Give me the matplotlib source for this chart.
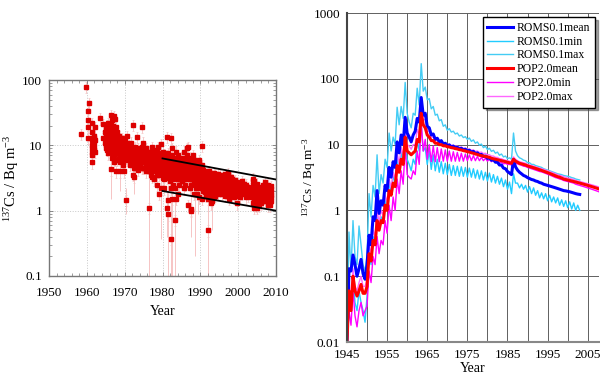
import numpy as np
import matplotlib
matplotlib.use("Agg")
import matplotlib.pyplot as plt
from matplotlib.ticker import FixedLocator, FixedFormatter, MultipleLocator, LogLocator, NullFormatter

plt.rcParams["font.family"] = ["Liberation Serif", "DejaVu Serif"]
plt.rcParams["mathtext.fontset"] = "custom"
plt.rcParams["mathtext.rm"] = "Liberation Serif"
plt.rcParams["mathtext.it"] = "Liberation Serif:italic"

# ---- left panel: observed surface 137Cs (sampling time, concentrations) ----
obs_time = [1958.5, 1959.7, 1960.2, 1960.6, 1961.3, 1961.8, 1962.2, 1963.5, 1964.3, 1964.8,
            1965.1, 1965.4, 1965.7, 1966.0, 1966.3, 1966.6, 1966.9,
            1967.2, 1967.5, 1967.8, 1968.1, 1968.4, 1968.7, 1968.9,
            1969.2, 1969.5, 1969.8, 1970.1, 1970.4, 1970.7,
            1971.2, 1971.5, 1971.8, 1972.1, 1972.4, 1972.8, 1973.2, 1973.6,
            1974.0, 1974.5, 1974.9, 1975.2, 1975.6, 1976.1, 1976.5, 1976.9,
            1977.3, 1977.7, 1978.1, 1978.5, 1978.9, 1979.2, 1979.6,
            1980.0, 1980.4, 1980.8, 1981.1, 1981.5, 1981.9, 1982.2, 1982.6, 1982.9,
            1983.2, 1983.6, 1984.0, 1984.4, 1984.8, 1985.2, 1985.6,
            1986.0, 1986.4, 1986.8, 1987.2, 1987.6, 1988.0, 1988.4, 1988.8,
            1989.2, 1989.6, 1990.0, 1990.4, 1990.8, 1991.2, 1991.6,
            1992.0, 1992.1, 1992.4, 1992.8, 1993.2, 1993.6, 1994.0, 1994.4, 1994.8,
            1995.2, 1995.6, 1996.0, 1996.4, 1996.8, 1997.2, 1997.6,
            1998.0, 1998.4, 1998.8, 1999.2, 1999.6, 2000.0, 2000.5,
            2001.0, 2001.6, 2002.2, 2002.7, 2003.4, 2004.0, 2004.3, 2004.6,
            2005.0, 2005.4, 2006.0, 2006.5, 2007.0, 2007.5, 2008.0, 2008.4, 2008.7]
obs_conc = [[15], [78], [33, 24, 19, 13], [44], [22, 16, 13, 9, 8, 7, 5.5, 12, 10], [14, 11, 9.5, 8.5, 13],
            [12, 8, 19], [26], [13, 21], [16, 11],
            [18, 14, 12, 10, 9], [20, 15, 11, 8.5, 13], [22, 17, 12, 9.5, 7.5], [16, 13, 10, 8, 11.5],
            [4.3, 29, 21, 14, 9, 12], [18, 15, 11, 8.5, 6.5, 24], [13, 10, 7, 16, 20],
            [28, 17, 12, 9, 7, 5.5, 14], [25, 15, 11, 8, 6, 10], [19, 13, 9.5, 7.5, 4, 11],
            [16, 12, 9, 6, 10.5], [14, 11, 8, 6.5, 9.5], [13, 10, 7.5, 5.5, 4], [12, 9, 7, 8],
            [13, 10, 8, 6, 11], [12, 9, 7, 5, 8.5], [11, 9.5, 7.5, 6.5, 4], [12, 9, 7, 8],
            [1.45, 10, 8.5, 6.5], [14, 11, 8, 6, 9.5],
            [10, 8, 6.5, 7.5, 9], [9, 7, 6, 8.5, 5], [11, 8, 7, 6, 9.5],
            [20.5, 9, 7, 5, 3.5, 8, 6], [8, 6.5, 5.5, 3.3, 7.5, 4.5],
            [9.5, 7, 6, 4.5, 8, 5.2], [13.5, 8, 6.5, 5.5, 7.2, 4.8], [7.5, 6, 9, 5, 6.8, 4.2],
            [8, 7, 6, 5, 7.5, 5.5], [19, 9.5, 7.5, 6, 5.5, 8.5, 4.5], [11, 8, 6.5, 4.5, 7, 5.5],
            [8.5, 6.5, 5.5, 4.5, 7.5, 6], [7, 6, 5, 9, 8, 5.5, 4],
            [6.5, 5.5, 4.5, 8, 7, 6], [1.1, 7, 6, 5, 4, 8, 5.5], [7.5, 6.5, 5.5, 3.5, 4.5, 6],
            [9.5, 7, 6, 4.5, 3.3, 8, 5.2], [8, 6.5, 5.5, 4, 3, 7.2, 4.8], [8.5, 6.5, 5.5, 4.5, 7.5, 6],
            [7, 6, 5, 3.5, 2.5, 8, 4.2], [9.5, 7.5, 6, 4, 5, 6.8],
            [6.5, 5.5, 4.5, 3.5, 1.8, 7.5, 5], [10.5, 7, 5.5, 4.5, 2.2, 6.2, 3.8],
            [8, 6, 5, 4, 7, 4.5, 3.2], [6.5, 5.5, 4.5, 3, 2.2, 7.2, 3.7], [7, 5.5, 4, 3.5, 6.2, 4.8],
            [13.5, 6, 5, 4, 1.1, 7, 4.5, 3.2], [7.5, 5.5, 4.5, 3.5, 0.88, 1.45, 6.5, 4],
            [6.5, 5, 4, 2.8, 5.7, 3.4], [13, 6, 4.5, 3.5, 2.2, 0.37, 5.2, 3.9],
            [9, 7, 5.5, 4.5, 3, 1.5, 6.2, 3.8], [6, 5, 4, 2.5, 4.5, 3.3],
            [0.72, 6, 4.5, 3.5, 2.2, 5.2, 3.9], [8, 5.5, 4, 3, 1.5, 6.5, 4.7],
            [7, 5, 4, 3, 1.8, 6, 4.5, 3.5], [6, 4.5, 3.5, 2.5, 5.2, 4, 3],
            [6.5, 5, 4, 3, 5.7, 4.5, 3.4], [5.5, 4.5, 3.5, 2.8, 5, 4, 3.2],
            [8, 6.5, 5, 4, 3, 2.2, 5.7, 4.5, 3.5],
            [6, 4.5, 3.5, 2.5, 5.3, 4, 3], [9, 7, 5.5, 4.5, 3.5, 6.2, 5, 4],
            [9.5, 6, 4.5, 3.5, 1.2, 5.2, 4, 3], [6.5, 5, 4, 3, 2.2, 5.5, 4.5, 3.5],
            [5.5, 4.5, 3.5, 2.5, 1.0, 1.05, 5, 4, 3], [7, 5, 4, 3, 6, 4.5, 3.5],
            [6, 4.5, 3.5, 2.8, 1.8, 5.2, 4, 3.2], [5.5, 4, 3, 2.2, 4.8, 3.5, 2.6],
            [5, 4, 3.2, 2.5, 1.8, 4.5, 3.6, 2.8], [6, 4.5, 3.5, 2.8, 1.6, 5.2, 4, 3.2],
            [4.5, 3.5, 2.8, 2.2, 4, 3.2, 2.5],
            [9.8, 5, 3.8, 3, 2.2, 1.5, 4.4, 3.4, 2.6], [4.2, 3.3, 2.6, 2, 3.7, 2.9, 2.3],
            [4, 3.2, 2.5, 1.9, 3.6, 2.8, 2.2], [3.6, 2.8, 2.2, 1.7, 3.2, 2.5, 2],
            [3.8, 3, 2.4, 1.9, 1.5, 3.4, 2.7, 2.1], [0.5], [4, 3.2, 2.6, 2, 1.6, 3.6, 2.9, 2.3],
            [3.4, 2.7, 2.2, 1.7, 1.3, 3, 2.4, 1.9],
            [3.5, 2.8, 2.3, 1.8, 1.4, 3.1, 2.5, 2], [3.8, 3, 2.4, 2, 1.6, 3.4, 2.7, 2.2],
            [3.6, 3, 2.5, 2.1, 1.7, 3.3, 2.7, 2.3],
            [3.3, 2.8, 2.3, 1.9, 3, 2.5, 2.1], [3.7, 3.1, 2.6, 2.2, 1.8, 3.4, 2.8, 2.4],
            [3.5, 2.9, 2.4, 2, 3.2, 2.6, 2.2], [3.2, 2.7, 2.2, 1.8, 3, 2.5, 2],
            [3.4, 2.8, 2.4, 2, 3.1, 2.6, 2.2], [3.6, 3, 2.5, 2.1, 1.7, 3.3, 2.7, 2.3],
            [3.2, 2.7, 2.3, 1.9, 2.9, 2.5, 2.1], [3.8, 3, 2.5, 2.1, 3.4, 2.7, 2.3],
            [3.1, 2.6, 2.2, 1.8, 1.5, 2.9, 2.4, 2],
            [3.3, 2.8, 2.4, 2, 3, 2.6, 2.2], [3, 2.5, 2.1, 1.7, 2.8, 2.3, 1.9],
            [2.8, 2.4, 2, 1.6, 2.6, 2.2, 1.8], [2.9, 2.5, 2.1, 1.8, 2.7, 2.3, 1.95],
            [2.7, 2.3, 2, 1.3, 2.5, 2.15], [2.6, 2.3, 2, 1.7, 2.45, 2.15], [2.5, 2.2, 1.9, 1.6, 2.35, 2.05],
            [2.8, 2.4, 2.1, 1.8, 2.6, 2.25], [2.6, 2.2, 1.9, 2.4, 2.05], [2.5, 2.2, 1.9, 1.6, 2.35, 2.05],
            [2.3, 2, 1.7, 2.15, 1.85], [2.2, 1.9, 1.6, 2.05, 1.75],
            [3.1, 2.5, 2, 1.6, 1.3, 2.8, 2.2, 1.8], [2.8, 2.2, 1.8, 1.4, 1.1, 2.5, 2, 1.6],
            [2.4, 1.9, 1.5, 1.2, 2.1, 1.7, 1.35],
            [2.6, 2.1, 1.7, 1.3, 1.1, 2.3, 1.9, 1.5], [2.3, 1.9, 1.5, 1.2, 2.1, 1.7, 1.35],
            [2.2, 1.8, 1.5, 1.3, 2, 1.65], [2.5, 2, 1.6, 1.4, 2.25, 1.8],
            [2.7, 2.1, 1.7, 1.4, 2.4, 1.9], [2.3, 1.9, 1.5, 2.1, 1.7],
            [2.5, 2, 1.6, 1.2, 2.25, 1.8, 1.4], [2.2, 1.8, 1.5, 1.2, 2, 1.65, 1.35],
            [2.4, 1.9, 1.6, 2.15, 1.75, 1.4]]
obs_rel_err = 0.2

# a few samples with very large uncertainty
big_err_time = [1966.3, 1968.7, 1970.4, 1972.4, 1976.5, 1979.5, 1981.1, 1981.5, 1982.2,
                1982.6, 1983.2, 1987.6, 1988.7, 1989.4, 1992.1, 1993.0]
big_err_low = [1.5, 2.0, 0.9, 1.8, 0.05, 0.37, 0.4, 0.05, 0.05, 0.05, 0.05, 0.4, 0.2, 0.9, 0.05, 0.5]
big_err_high = [6, 6, 2.2, 6, 3, 4, 2, 2.5, 1.5, 2.5, 1.5, 2, 2, 3, 1.2, 2.5]

trend_years = [1980, 2010]
trend_upper = [6.3, 3.0]
trend_lower = [2.0, 1.0]

# ---- right panel: model surface 137Cs (half-year output) ----
t_roms = np.arange(1945, 2003.01, 0.5)
t_pop = np.arange(1945, 2008.01, 0.5)

roms_mean = [0.01, 0.13, 0.12, 0.21, 0.15, 0.10, 0.13, 0.18, 0.11, 0.09,
             0.15, 0.42, 0.30, 0.80, 0.70, 2.0, 0.90, 1.4, 1.2, 2.4,
             2.0, 4.5, 3.2, 5.5, 4.5, 11, 7.5, 14, 10, 26,
             15, 13, 11, 14, 16, 25, 22, 52, 28, 30,
             19, 18, 14, 14.5, 12, 12.5, 11, 11.5, 10.2, 10.5,
             9.6, 9.9, 9.2, 9.5, 8.9, 9.1, 8.6, 8.8, 8.3, 8.5,
             8.0, 8.2, 7.7, 7.9, 7.3, 7.5, 7.0, 7.1, 6.6, 6.7,
             6.2, 6.3, 5.8, 5.9, 5.4, 5.4, 4.9, 4.9, 4.4, 4.3,
             3.9, 3.7, 3.5, 5.9, 4.6, 4.1, 3.8, 3.6, 3.4, 3.3,
             3.15, 3.05, 2.95, 2.9, 2.8, 2.75, 2.65, 2.6, 2.5, 2.45,
             2.4, 2.35, 2.3, 2.25, 2.2, 2.15, 2.1, 2.05, 2.0, 1.98,
             1.95, 1.92, 1.88, 1.84, 1.8, 1.77,
             1.75]
roms_min = [0.01, 0.05, 0.03, 0.10, 0.04, 0.03, 0.06, 0.04, 0.03, 0.02,
            0.05, 0.20, 0.15, 0.40, 0.35, 0.90, 0.50, 0.80, 0.70, 1.5,
            1.0, 2.8, 1.8, 3.5, 2.5, 6.5, 4.0, 8.0, 5.0, 12,
            6.0, 5.0, 4.0, 6.0, 5.0, 12, 8.0, 20, 8.0, 9.0,
            5.0, 8.0, 4.2, 7.0, 4.0, 6.0, 3.8, 5.5, 3.6, 5.2,
            3.5, 5.0, 3.4, 4.8, 3.4, 4.7, 3.3, 4.6, 3.3, 4.5,
            3.2, 4.4, 3.2, 4.3, 3.1, 4.1, 3.0, 4.0, 2.9, 3.8,
            2.8, 3.7, 2.7, 3.5, 2.6, 3.3, 2.5, 3.1, 2.3, 2.9,
            2.1, 2.7, 1.8, 3.6, 2.6, 2.6, 2.2, 2.5, 2.1, 2.4,
            1.9, 2.3, 1.8, 2.2, 1.7, 2.0, 1.55, 1.85, 1.5, 1.8,
            1.4, 1.7, 1.35, 1.6, 1.3, 1.55, 1.2, 1.45, 1.15, 1.4,
            1.1, 1.35, 1.05, 1.3, 1.0, 1.2,
            1.0]
roms_max = [0.01, 0.47, 0.12, 0.70, 0.20, 0.15, 0.58, 0.30, 0.15, 0.12,
            0.20, 1.8, 0.80, 2.4, 1.6, 7.0, 1.8, 3.5, 2.6, 6.0,
            4.5, 15, 8.0, 13, 10, 37, 20, 38, 25, 88,
            30, 22, 18, 30, 28, 72, 40, 170, 65, 75,
            48, 50, 35, 38, 28, 29, 23, 24, 19, 20,
            16.5, 17.5, 15.5, 16, 14.5, 15, 13.5, 14, 12.8, 13.2,
            12, 12.6, 11.2, 11.8, 10.5, 11, 9.8, 10.2, 9.0, 9.5,
            8.4, 8.8, 7.9, 8.2, 7.4, 7.7, 6.9, 7.2, 6.5, 6.7,
            6.1, 6.3, 6.0, 15, 8.0, 6.8, 6.3, 6.1, 5.8, 5.7,
            5.3, 5.3, 5.0, 5.0, 4.8, 4.7, 4.6, 4.5, 4.3, 4.2,
            4.1, 4.0, 3.9, 3.8, 3.7, 3.6, 3.55, 3.5, 3.4, 3.35,
            3.3, 3.25, 3.15, 3.1, 3.0, 2.95,
            2.9]
pop_mean = [0.01, 0.06, 0.03, 0.10, 0.06, 0.05, 0.06, 0.075, 0.055, 0.055,
            0.07, 0.22, 0.17, 0.35, 0.30, 0.70, 0.50, 0.70, 0.65, 1.2,
            1.0, 2.0, 1.7, 2.6, 2.3, 4.8, 3.8, 6.0, 5.0, 13,
            8.0, 7.5, 7.0, 7.5, 8.0, 12, 11, 30, 20, 18,
            14, 13, 11.5, 11.5, 10.5, 10.5, 10, 10, 9.6, 9.6,
            9.3, 9.2, 9.0, 8.9, 8.7, 8.6, 8.4, 8.3, 8.1, 8.0,
            7.8, 7.7, 7.5, 7.4, 7.2, 7.1, 6.9, 6.8, 6.7, 6.6,
            6.5, 6.4, 6.2, 6.1, 6.0, 5.9, 5.8, 5.7, 5.6, 5.5,
            5.4, 5.3, 5.2, 6.0, 5.6, 5.4, 5.2, 5.1, 5.0, 4.9,
            4.75, 4.65, 4.55, 4.45, 4.35, 4.25, 4.15, 4.05, 3.95, 3.85,
            3.75, 3.65, 3.55, 3.45, 3.35, 3.25, 3.2, 3.1, 3.0, 2.95,
            2.9, 2.85, 2.8, 2.75, 2.7, 2.65, 2.6, 2.55, 2.5, 2.45,
            2.4, 2.35, 2.3, 2.25, 2.2, 2.15,
            2.1]
pop_min = [0.01, 0.03, 0.018, 0.06, 0.025, 0.017, 0.03, 0.04, 0.025, 0.03,
           0.035, 0.12, 0.08, 0.20, 0.15, 0.40, 0.22, 0.35, 0.30, 0.70,
           0.45, 1.2, 0.70, 1.6, 1.0, 3.0, 1.8, 4.0, 2.5, 9.0,
           3.5, 3.2, 3.0, 4.0, 3.5, 8.0, 5.0, 22, 8.0, 12,
           6.0, 10, 5.5, 9.5, 5.5, 9.0, 5.5, 8.6, 5.6, 8.3,
           5.6, 8.0, 5.6, 7.8, 5.6, 7.6, 5.6, 7.4, 5.6, 7.2,
           5.7, 7.0, 5.7, 6.8, 5.7, 6.6, 5.7, 6.4, 5.7, 6.2,
           5.6, 6.0, 5.5, 5.8, 5.4, 5.6, 5.3, 5.4, 5.1, 5.2,
           5.0, 5.0, 4.9, 5.7, 5.3, 5.1, 4.95, 4.85, 4.7, 4.65,
           4.5, 4.4, 4.3, 4.2, 4.1, 4.0, 3.9, 3.85, 3.75, 3.65,
           3.55, 3.45, 3.35, 3.25, 3.15, 3.1, 3.0, 2.95, 2.85, 2.8,
           2.75, 2.7, 2.65, 2.6, 2.5, 2.45, 2.4, 2.35, 2.3, 2.25,
           2.2, 2.15, 2.1, 2.05, 2.0, 1.95,
           1.9]
pop_max = [0.01, 0.09, 0.04, 0.13, 0.07, 0.06, 0.08, 0.10, 0.07, 0.07,
           0.09, 0.30, 0.22, 0.50, 0.40, 1.0, 0.65, 1.0, 0.85, 1.7,
           1.3, 3.0, 2.2, 3.8, 3.0, 7.5, 5.0, 9.0, 6.5, 18,
           10, 9.5, 8.5, 10, 10, 17, 14, 42, 24, 24,
           16, 16, 13, 13, 11.5, 11.8, 10.8, 11, 10.3, 10.6,
           10, 10.2, 9.7, 9.8, 9.4, 9.5, 9.1, 9.2, 8.8, 8.9,
           8.5, 8.6, 8.2, 8.3, 7.9, 8.0, 7.6, 7.7, 7.3, 7.4,
           7.0, 7.0, 6.7, 6.7, 6.4, 6.4, 6.1, 6.1, 5.9, 5.8,
           5.7, 5.6, 5.5, 6.5, 6.0, 5.7, 5.5, 5.4, 5.3, 5.2,
           5.0, 4.9, 4.8, 4.7, 4.6, 4.5, 4.4, 4.3, 4.2, 4.1,
           4.0, 3.9, 3.8, 3.7, 3.6, 3.5, 3.4, 3.35, 3.25, 3.2,
           3.1, 3.05, 3.0, 2.95, 2.85, 2.8, 2.75, 2.7, 2.65, 2.6,
           2.55, 2.5, 2.45, 2.4, 2.35, 2.3,
           2.25]

ylabel = r"$^{137}$Cs / Bq m$^{-3}$"

fig = plt.figure(figsize=(6.0, 3.83), dpi=100)

# ---------------- left panel ----------------
ax1 = fig.add_axes([0.0817, 0.2794, 0.3783, 0.5117])
xs, ys = [], []
for t, vals in zip(obs_time, obs_conc):
    for v in vals:
        xs.append(t)
        ys.append(v)
xs = np.array(xs)
ys = np.array(ys)
ax1.errorbar(xs, ys, yerr=obs_rel_err * ys, fmt="none", ecolor="#f6c4c4",
             elinewidth=0.6, capsize=1.0, capthick=0.5, zorder=1)
ax1.vlines(big_err_time, big_err_low, big_err_high, color="#f6c4c4", lw=0.7, zorder=1)
ax1.plot(xs, ys, ls="none", marker="s", ms=2.6, mfc="#dd0000", mec="#dd0000", zorder=3)
ax1.plot(trend_years, trend_upper, color="black", lw=1.3, zorder=4)
ax1.plot(trend_years, trend_lower, color="black", lw=1.3, zorder=4)

ax1.set_yscale("log")
ax1.set_xlim(1950, 2010)
ax1.set_ylim(0.1, 100)
ax1.xaxis.set_major_locator(MultipleLocator(10))
ax1.xaxis.set_minor_locator(MultipleLocator(2))
ax1.yaxis.set_major_locator(FixedLocator([0.1, 1, 10, 100]))
ax1.yaxis.set_major_formatter(FixedFormatter(["0.1", "1", "10", "100"]))
ax1.yaxis.set_minor_locator(LogLocator(base=10, subs=np.arange(2, 10)))
ax1.yaxis.set_minor_formatter(NullFormatter())
ax1.tick_params(which="both", direction="in", top=True, right=True, labelsize=9.5,
                colors="#777777", labelcolor="black")
ax1.tick_params(which="major", length=3, width=0.6)
ax1.tick_params(which="minor", length=2, width=0.5)
ax1.tick_params(axis="x", which="major", pad=8)
ax1.tick_params(axis="y", which="major", pad=5)
ax1.grid(True, which="major", ls=":", color="#c8c8c8", lw=0.7)
for s in ax1.spines.values():
    s.set_color("#777777")
    s.set_linewidth(1.0)
ax1.set_xlabel("Year", fontsize=10, labelpad=4)
ax1.set_ylabel(ylabel, fontsize=10.5)
ax1.yaxis.set_label_coords(-0.122, 0.5)

# ---------------- right panel ----------------
ax2 = fig.add_axes([0.5783, 0.1070, 0.42, 0.859])
h_rmin, = ax2.plot(t_roms, roms_min, color="#22ccff", lw=1.0, label="ROMS0.1min")
h_rmax, = ax2.plot(t_roms, roms_max, color="#44ccf4", lw=1.0, label="ROMS0.1max")
h_pmax, = ax2.plot(t_pop, pop_max, color="#ff66ff", lw=1.0, label="POP2.0max")
h_pmin, = ax2.plot(t_pop, pop_min, color="#ff00ff", lw=1.0, label="POP2.0min")
h_rmean, = ax2.plot(t_roms, roms_mean, color="#0000ff", lw=2.2, label="ROMS0.1mean")
h_pmean, = ax2.plot(t_pop, pop_mean, color="#ff0000", lw=2.2, label="POP2.0mean")

ax2.set_yscale("log")
ax2.set_xlim(1945, 2007.8)
ax2.set_ylim(0.01, 1000)
ax2.xaxis.set_major_locator(FixedLocator([1945, 1955, 1965, 1975, 1985, 1995, 2005]))
ax2.xaxis.set_minor_locator(FixedLocator([1950, 1960, 1970, 1980, 1990, 2000]))
ax2.yaxis.set_major_locator(FixedLocator([0.01, 0.1, 1, 10, 100, 1000]))
ax2.yaxis.set_major_formatter(FixedFormatter(["0.01", "0.1", "1", "10", "100", "1000"]))
ax2.yaxis.set_minor_locator(FixedLocator([]))
ax2.tick_params(which="both", length=0, labelsize=9.5, pad=5)
ax2.grid(True, which="both", axis="x", color="#606060", lw=0.7)
ax2.grid(True, which="major", axis="y", color="#606060", lw=0.7)
ax2.spines["top"].set_visible(False)
ax2.spines["right"].set_visible(False)
ax2.spines["left"].set_color("#444444")
ax2.spines["left"].set_linewidth(1.5)
ax2.spines["bottom"].set_color("#888888")
ax2.spines["bottom"].set_linewidth(1.5)
ax2.set_xlabel("Year", fontsize=10, labelpad=1)
ax2.set_ylabel(ylabel, fontsize=9.5)
ax2.yaxis.set_label_coords(-0.115, 0.5)

leg = ax2.legend(handles=[h_rmean, h_rmin, h_rmax, h_pmean, h_pmin, h_pmax],
                 loc="upper right", bbox_to_anchor=(0.992, 0.955), bbox_transform=fig.transFigure,
                 fontsize=8.5, frameon=True, fancybox=False, shadow=True, borderaxespad=0,
                 handlelength=2.2, handletextpad=0.3, labelspacing=0.15, borderpad=0.4)
leg.get_frame().set_edgecolor("black")
leg.get_frame().set_linewidth(1.0)

fig.savefig("out.png", dpi=100)
